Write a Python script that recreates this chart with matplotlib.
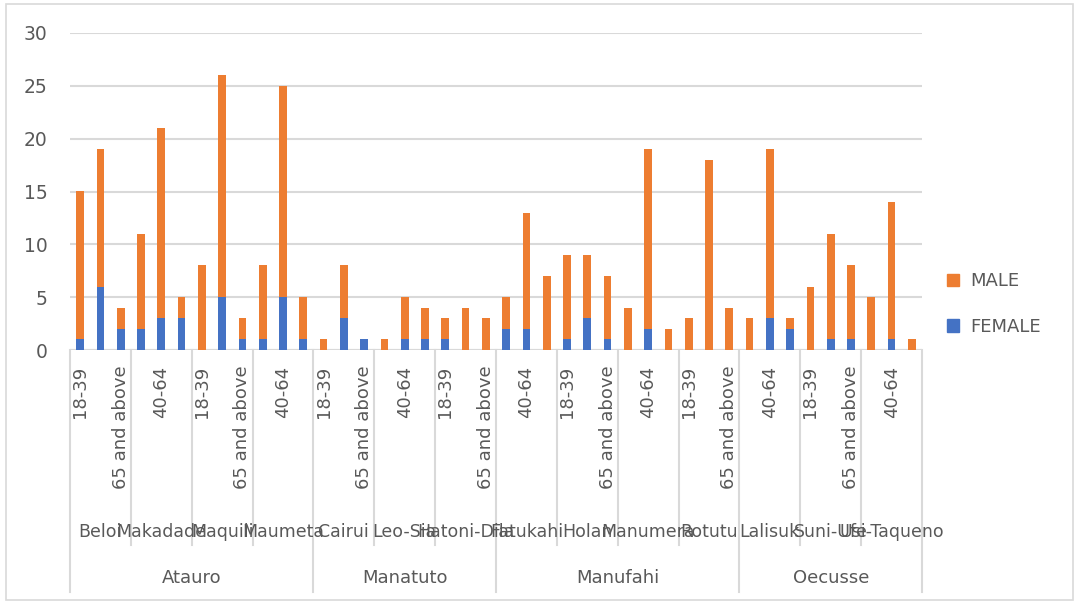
import matplotlib
matplotlib.use("Agg")
import matplotlib.pyplot as plt
from matplotlib.patches import Rectangle, Patch

# categories (district -> suco -> age group)
districts = ["Atauro", "Manatuto", "Manufahi", "Oecusse"]
sucos = [["Beloi", "Makadade", "Maquili", "Maumeta"],
         ["Cairui", "Leo-Sia", "Hatoni-Dila"],
         ["Fatukahi", "Holan", "Manumera", "Rotutu"],
         ["Lalisuk", "Suni-Ufe", "Usi-Taqueno"]]
age_groups = ["18-39", "40-64", "65 and above"]

# counts, one value per (suco, age group) in the order above
female = [1, 6, 2, 2, 3, 3, 0, 5, 1, 1, 5, 1,
          0, 3, 1, 0, 1, 1, 1, 0, 0,
          2, 2, 0, 1, 3, 1, 0, 2, 0, 0, 0, 0,
          0, 3, 2, 0, 1, 1, 0, 1, 0]
male = [14, 13, 2, 9, 18, 2, 8, 21, 2, 7, 20, 4,
        1, 5, 0, 1, 4, 3, 2, 4, 3,
        3, 11, 7, 8, 6, 6, 4, 17, 2, 3, 18, 4,
        3, 16, 1, 6, 10, 7, 5, 13, 1]

BLUE = "#4472C4"
ORANGE = "#ED7D31"
GRID = "#D9D9D9"
TXT = "#595959"

plt.rcParams['font.family'] = ['DejaVu Sans']

fig = plt.figure(figsize=(10.79, 6.04), dpi=100)
ax = fig.add_axes([70 / 1079, 1 - 350 / 604, 852 / 1079, 317 / 604])

n = len(female)
x = list(range(n))
ax.bar(x, female, 0.38, color=BLUE, label="FEMALE", zorder=3)
ax.bar(x, male, 0.38, bottom=female, color=ORANGE, label="MALE", zorder=3)

ax.set_xlim(-0.5, n - 0.5)
ax.set_ylim(0, 30)
ax.set_yticks(range(0, 31, 5))
ax.yaxis.grid(True, color=GRID, linewidth=1.5, zorder=0)
ax.tick_params(axis='y', length=0, pad=16, labelsize=13.5, labelcolor=TXT)
ax.set_xticks([])
for s in ax.spines.values():
    s.set_visible(False)
ax.axhline(0, color=GRID, linewidth=1.5, zorder=1)

tr = ax.get_xaxis_transform()

# age group labels - every other category, like Excel does when crowded
for i in range(0, n, 2):
    ax.text(i, -0.05, age_groups[i % 3], transform=tr, rotation=90,
            ha='center', va='top', fontsize=13, color=TXT)

# suco and district labels with separator lines
pos = 0
for d, name in enumerate(districts):
    start = pos
    for s in sucos[d]:
        if pos != start:
            ax.plot([pos - 0.5, pos - 0.5], [0, -0.615], transform=tr,
                    color=GRID, linewidth=1.5, clip_on=False)
        ax.text(pos + 1, -0.574, s, transform=tr, ha='center', va='center',
                fontsize=12.5, color=TXT)
        pos += len(age_groups)
    ax.plot([start - 0.5, start - 0.5], [0, -0.763], transform=tr,
            color=GRID, linewidth=1.5, clip_on=False)
    ax.text((start + pos - 1) / 2, -0.719, name, transform=tr, ha='center',
            va='center', fontsize=13, color=TXT)
ax.plot([pos - 0.5, pos - 0.5], [0, -0.763], transform=tr,
        color=GRID, linewidth=1.5, clip_on=False)

handles = [Patch(color=ORANGE, label="MALE"), Patch(color=BLUE, label="FEMALE")]
leg = ax.legend(handles=handles, loc='center left', bbox_to_anchor=(1.01, 0.145),
                frameon=False, fontsize=13, labelcolor=TXT, labelspacing=1.5,
                handlelength=0.7, handleheight=0.7, handletextpad=0.6)

fig.add_artist(Rectangle((6 / 1079, 4 / 604), 1 - 12 / 1079, 1 - 8 / 604,
                         transform=fig.transFigure, fill=False,
                         edgecolor=GRID, linewidth=1.2))

fig.savefig("out.png", dpi=100)
